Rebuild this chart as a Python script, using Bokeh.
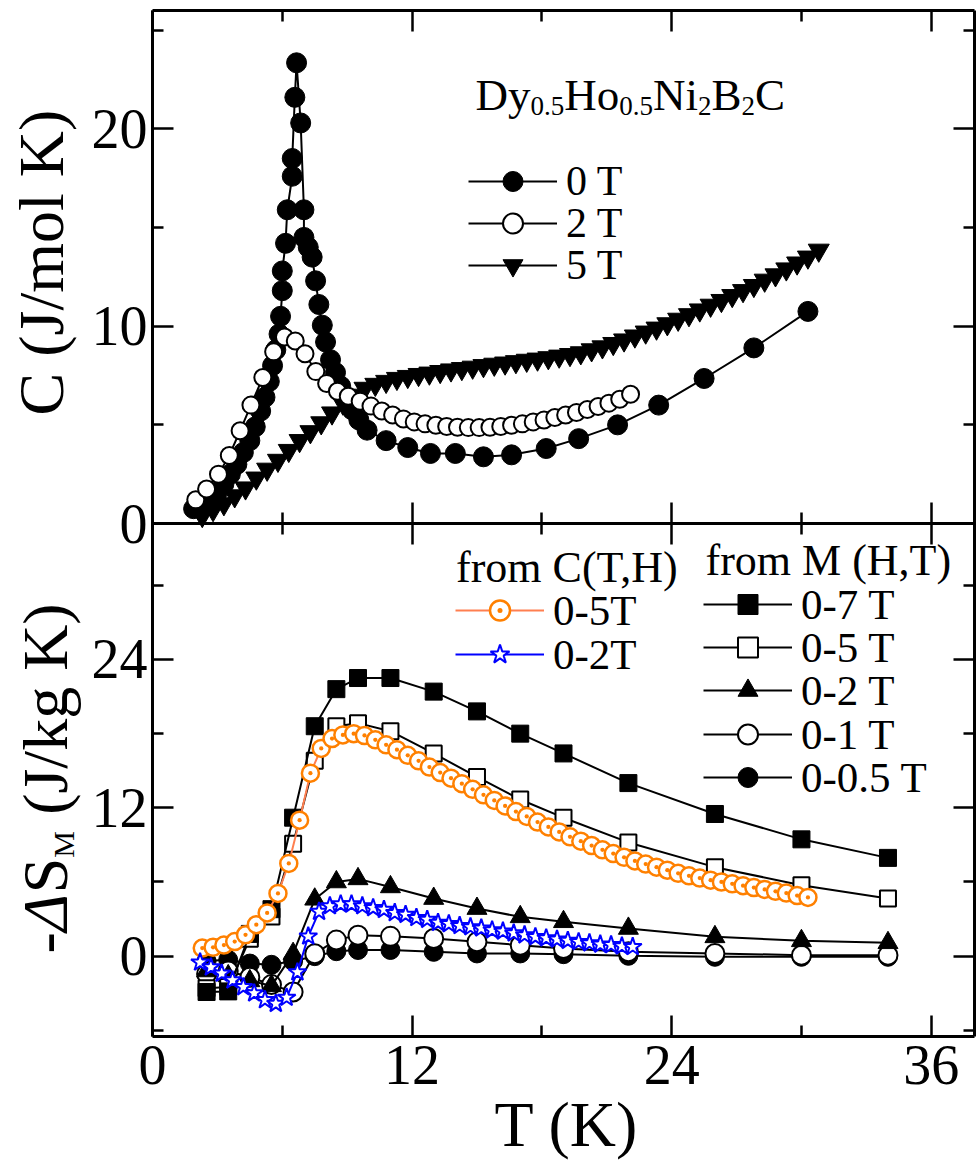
import math
from bokeh.plotting import figure
from bokeh.models import (Range1d, LinearAxis, FixedTicker, SingleIntervalTicker,
                          CustomJSTickFormatter, Label, Legend, LegendItem)
from bokeh.embed import file_html
from bokeh.resources import INLINE

# ---------------- data: top panel, C (J/mol K) vs T (K) ----------------
T_0T = [1.9, 2.1, 2.4, 2.7, 3.0, 3.3, 3.6, 3.9, 4.2, 4.5, 4.75, 5.0, 5.2, 5.4, 5.55,
        5.7, 5.85, 5.92, 6.0, 6.0, 6.15, 6.23, 6.46, 6.46, 6.58, 6.66, 6.85, 7.0, 7.0, 7.2,
        7.38, 7.54, 7.69, 7.85, 8.0, 8.23, 8.46, 8.7, 8.92, 9.23, 9.54, 9.92, 10.8, 11.8, 12.85,
        14.0, 15.3, 16.6, 18.2, 19.7, 21.5, 23.4, 25.5, 27.8, 30.3]
C_0T = [0.75, 0.8, 1.0, 1.3, 1.6, 2.0, 2.5, 3.0, 3.6, 4.2, 4.9, 5.7, 6.4, 7.2, 8.0,
        8.8, 9.6, 10.5, 11.8, 12.8, 14.2, 15.9, 17.6, 18.5, 21.6, 23.35, 20.3, 15.9, 14.5, 14.0,
        13.5, 12.3, 11.1, 10.05, 9.2, 8.3, 7.65, 6.96, 6.36, 5.76, 5.25, 4.73, 4.2, 3.85, 3.55,
        3.55, 3.38, 3.48, 3.8, 4.3, 5.0, 6.0, 7.35, 8.9, 10.75]

T_2T = [2.0, 2.5, 3.05, 3.55, 4.05, 4.55, 5.1, 5.6, 6.1, 6.6, 7.05, 7.55, 8.05, 8.55, 9.05,
        9.6, 10.1, 10.6, 11.1, 11.6, 12.1, 12.6, 13.1, 13.6, 14.1, 14.6, 15.1, 15.6, 16.1, 16.6,
        17.1, 17.6, 18.1, 18.6, 19.1, 19.6, 20.1, 20.6, 21.1, 21.6, 22.1]
C_2T = [1.2, 1.75, 2.5, 3.45, 4.7, 6.0, 7.4, 8.7, 9.45, 9.25, 8.6, 7.7, 7.1, 6.7, 6.45,
        6.2, 5.95, 5.7, 5.5, 5.3, 5.15, 5.05, 4.98, 4.92, 4.88, 4.86, 4.86, 4.88, 4.92, 4.98,
        5.05, 5.15, 5.25, 5.37, 5.5, 5.63, 5.78, 5.93, 6.1, 6.3, 6.55]

T_5T = [2.3, 2.8, 3.3, 3.8, 4.3, 4.8, 5.3, 5.8, 6.3, 6.8, 7.3, 7.8, 8.3, 8.8, 9.3,
        9.8, 10.3, 10.8, 11.3, 11.8, 12.3, 12.8, 13.3, 13.8, 14.3, 14.8, 15.3, 15.8, 16.3, 16.8,
        17.3, 17.8, 18.3, 18.8, 19.3, 19.8, 20.3, 20.8, 21.3, 21.8, 22.3, 22.8, 23.3, 23.8, 24.3,
        24.8, 25.3, 25.8, 26.3, 26.8, 27.3, 27.8, 28.3, 28.8, 29.3, 29.8, 30.3, 30.8]
C_5T = [0.4, 0.7, 1.0, 1.4, 1.8, 2.3, 2.75, 3.2, 3.7, 4.2, 4.65, 5.1, 5.6, 6.1, 6.5,
        6.85, 7.05, 7.2, 7.35, 7.45, 7.55, 7.62, 7.7, 7.78, 7.85, 7.92, 8.0, 8.07, 8.13, 8.2,
        8.27, 8.33, 8.4, 8.48, 8.56, 8.65, 8.8, 8.95, 9.12, 9.3, 9.5, 9.7, 9.9, 10.12, 10.35,
        10.58, 10.82, 11.06, 11.3, 11.55, 11.8, 12.06, 12.33, 12.6, 12.9, 13.2, 13.5, 13.85]

# ---------------- data: bottom panel, -dS_M (J/kg K) vs T (K) ----------------
T_M = [2.5, 3.5, 4.5, 5.5, 6.5, 7.5, 8.5, 9.5, 11, 13, 15, 17, 19, 22, 26, 30, 34]
S_M07 = [-2.9, -2.85, 1.8, 3.8, 11.2, 18.6, 21.6, 22.5, 22.5, 21.4, 19.8, 18.0, 16.4, 14.0, 11.5, 9.45, 7.95]
S_M05 = [-2.6, -2.5, 1.4, 3.2, 9.1, 15.8, 18.6, 18.85, 18.2, 16.4, 14.5, 12.67, 11.2, 9.2, 7.2, 5.74, 4.66]
S_M02 = [-1.2, -1.6, -2.0, -2.4, 0.2, 4.6, 6.0, 6.25, 5.6, 4.66, 3.85, 3.18, 2.78, 2.24, 1.56, 1.24, 1.08]
S_M01 = [-1.45, -1.2, -1.7, -2.3, -2.9, 0.2, 1.3, 1.7, 1.6, 1.43, 1.16, 0.89, 0.62, 0.35, 0.22, 0.08, 0.08]
S_M005 = [-0.4, -0.3, -0.6, -0.7, -0.4, 0.0, 0.4, 0.5, 0.5, 0.35, 0.22, 0.22, 0.16, 0.03, -0.05, -0.05, -0.05]

T_C5 = [2.3, 2.8, 3.3, 3.8, 4.3, 4.8, 5.3, 5.8, 6.3, 6.8, 7.3, 7.8, 8.3, 8.8, 9.3,
        9.8, 10.3, 10.8, 11.3, 11.8, 12.3, 12.8, 13.3, 13.8, 14.3, 14.8, 15.3, 15.8, 16.3, 16.8,
        17.3, 17.8, 18.3, 18.8, 19.3, 19.8, 20.3, 20.8, 21.3, 21.8, 22.3, 22.8, 23.3, 23.8, 24.3,
        24.8, 25.3, 25.8, 26.3, 26.8, 27.3, 27.8, 28.3, 28.8, 29.3, 29.8, 30.3]
S_C5 = [0.65, 0.72, 0.9, 1.18, 1.73, 2.55, 3.5, 5.07, 7.5, 11.0, 14.8, 16.8, 17.6, 17.9, 18.0,
        17.85, 17.5, 17.1, 16.7, 16.25, 15.8, 15.3, 14.85, 14.4, 13.95, 13.5, 13.05, 12.6, 12.15, 11.7,
        11.3, 10.85, 10.45, 10.05, 9.65, 9.3, 8.95, 8.6, 8.3, 8.0, 7.7, 7.45, 7.2, 6.95, 6.7,
        6.5, 6.32, 6.15, 6.0, 5.85, 5.7, 5.55, 5.4, 5.25, 5.1, 4.9, 4.75]

T_C2 = [2.2, 2.7, 3.2, 3.7, 4.2, 4.7, 5.2, 5.7, 6.2, 6.7, 7.2, 7.7, 8.2, 8.7, 9.2,
        9.7, 10.2, 10.7, 11.2, 11.7, 12.2, 12.7, 13.2, 13.7, 14.2, 14.7, 15.2, 15.7, 16.2, 16.7,
        17.2, 17.7, 18.2, 18.7, 19.2, 19.7, 20.2, 20.7, 21.2, 21.7, 22.2]
S_C2 = [-0.5, -0.9, -1.4, -1.95, -2.5, -3.0, -3.55, -3.85, -3.35, -1.3, 1.6, 3.6, 4.05, 4.2, 4.2,
        4.05, 3.9, 3.75, 3.5, 3.35, 3.1, 2.95, 2.7, 2.6, 2.45, 2.35, 2.25, 2.1, 2.0, 1.85,
        1.7, 1.55, 1.45, 1.35, 1.25, 1.15, 1.05, 0.95, 0.9, 0.8, 0.75]

# ticks
X_MAJOR = [0, 12, 24, 36]
X_MINOR = [6, 18, 30]
C_MAJOR = [0, 10, 20]
C_MINOR = [5, 15, 25]
S_MAJOR = [0, 12, 24]
S_MINOR = [-6, 6, 18, 30]

# ---------------- layout (page pixels) ----------------
SERIF = "Liberation Serif"
W, H = 976, 1163
PX_L, PX_R = 152, 974        # panel left / right edges
PX_T, PX_M, PX_B = 10, 523, 1036  # top edge, boundary between panels, bottom edge
X_MAX = 38.0
C_TOP = 26.0                  # top panel: C from 0 to C_TOP
S_MIN, S_MAX = -6.5, 35.0     # bottom panel
UX = (PX_R - PX_L) / X_MAX
UC = (PX_M - PX_T) / C_TOP
US = (PX_B - PX_M) / (S_MAX - S_MIN)
BASE_FIX = 0.34               # em shift to place alphabetic baselines


def px2x(px):
    return (px - PX_L) / UX


def py2c(py):
    return (PX_M - py) / UC


def py2s(py):
    return S_MAX - (py - PX_M) / US


def s2c(s):
    return py2c(PX_M + (S_MAX - s) * US)


# the frame covers the whole page; panels are drawn with fixed-location axes
p = figure(width=W, height=H, x_range=Range1d(px2x(0), px2x(W)),
           y_range=Range1d(py2c(H), py2c(0)),
           output_backend="svg", toolbar_location=None, min_border=0,
           x_axis_location=None, y_axis_location=None)
p.extra_y_ranges = {"bot": Range1d(py2s(H), py2s(0))}
p.grid.visible = False
p.outline_line_color = None
p.background_fill_color = "white"
p.border_fill_color = "white"


def style_axis(ax, labels):
    ax.axis_line_width = 3
    ax.axis_line_color = "black"
    ax.major_tick_in = 21
    ax.major_tick_out = 0
    ax.minor_tick_in = 11
    ax.minor_tick_out = 0
    ax.major_tick_line_width = 2.5
    ax.minor_tick_line_width = 2.5
    ax.major_tick_line_color = "black"
    ax.minor_tick_line_color = "black"
    if labels:
        ax.major_label_text_font = SERIF
        ax.major_label_text_font_size = "56px"
        ax.major_label_text_color = "black"
        ax.major_label_standoff = 5
    else:
        ax.major_label_text_font_size = "0px"
        ax.major_label_text_color = None
        ax.major_label_standoff = 0


def y_ticker():
    return FixedTicker(ticks=C_MAJOR + [s2c(s) for s in S_MAJOR],
                       minor_ticks=C_MINOR + [s2c(s) for s in S_MINOR])


def x_ticker():
    return FixedTicker(ticks=X_MAJOR, minor_ticks=X_MINOR)


y_fmt = CustomJSTickFormatter(args=dict(k=UC / US, smax=S_MAX), code="""
    const v = tick >= -1e-6 ? tick : tick * k + smax;
    return Math.round(v).toString();
""")
Y_BOUNDS = (py2c(PX_B), py2c(PX_T))
X_BOUNDS = (0, X_MAX)

ax_left = LinearAxis(ticker=y_ticker(), formatter=y_fmt, fixed_location=0, bounds=Y_BOUNDS)
style_axis(ax_left, True)
p.add_layout(ax_left, "left")

ax_right = LinearAxis(ticker=y_ticker(), fixed_location=X_MAX, bounds=Y_BOUNDS)
style_axis(ax_right, False)
p.add_layout(ax_right, "right")

ax_top = LinearAxis(ticker=x_ticker(), fixed_location=C_TOP, bounds=X_BOUNDS)
style_axis(ax_top, False)
p.add_layout(ax_top, "above")

ax_bottom = LinearAxis(ticker=x_ticker(), fixed_location=py2c(PX_B), bounds=X_BOUNDS)
style_axis(ax_bottom, True)
ax_bottom.major_label_standoff = 9
p.add_layout(ax_bottom, "below")

# the shared boundary: bottom axis of the top panel and top axis of the lower panel
ax_mid_up = LinearAxis(ticker=x_ticker(), fixed_location=0, bounds=X_BOUNDS)
style_axis(ax_mid_up, False)
p.add_layout(ax_mid_up, "below")
ax_mid_dn = LinearAxis(ticker=x_ticker(), fixed_location=0, bounds=X_BOUNDS)
style_axis(ax_mid_dn, False)
p.add_layout(ax_mid_dn, "above")

# ---------------- top panel ----------------
l5 = p.line(T_5T, C_5T, line_color="black", line_width=2)
s5 = p.scatter(T_5T, C_5T, marker="inverted_triangle", size=21, fill_color="black",
               line_color="black", line_width=1)
l0 = p.line(T_0T, C_0T, line_color="black", line_width=2)
s0 = p.scatter(T_0T, C_0T, marker="circle", size=20, fill_color="black",
               line_color="black", line_width=1)
l2 = p.line(T_2T, C_2T, line_color="black", line_width=2)
s2 = p.scatter(T_2T, C_2T, marker="circle", size=17, fill_color="white",
               line_color="black", line_width=2)

# ---------------- bottom panel ----------------
B = dict(y_range_name="bot")
lm005 = p.line(T_M, S_M005, line_color="black", line_width=2, **B)
sm005 = p.scatter(T_M, S_M005, marker="circle", size=19, fill_color="black",
                  line_color="black", line_width=1, **B)
lm01 = p.line(T_M, S_M01, line_color="black", line_width=2, **B)
sm01 = p.scatter(T_M, S_M01, marker="circle", size=19, fill_color="white",
                 line_color="black", line_width=2, **B)
lm02 = p.line(T_M, S_M02, line_color="black", line_width=2, **B)
sm02 = p.scatter(T_M, S_M02, marker="triangle", size=20, fill_color="black",
                 line_color="black", line_width=1, **B)
lm05 = p.line(T_M, S_M05, line_color="black", line_width=2, **B)
sm05 = p.scatter(T_M, S_M05, marker="square", size=16, fill_color="white",
                 line_color="black", line_width=2, **B)
lm07 = p.line(T_M, S_M07, line_color="black", line_width=2, **B)
sm07 = p.scatter(T_M, S_M07, marker="square", size=17, fill_color="black",
                 line_color="black", line_width=1, **B)

lc5 = p.line(T_C5, S_C5, line_color="#FF7F50", line_width=2, **B)
sc5 = p.scatter(T_C5, S_C5, marker="circle_dot", size=17, fill_color="white",
                line_color="#FF8000", line_width=2.5, **B)
lc2 = p.line(T_C2, S_C2, line_color="#0000FF", line_width=2, **B)
sc2 = p.scatter(T_C2, S_C2, marker="star", size=19, fill_color="white",
                line_color="#0000FF", line_width=2, **B)

# ---------------- legends: one row each, placed by the row centre (page px) ----------------
ROW_H = 50


def legend_row(label, renderers, x_left, y_centre, size):
    lg = Legend(items=[LegendItem(label=label, renderers=renderers)],
                location=(x_left, round(H - (y_centre + ROW_H / 2))))
    lg.glyph_width = 89
    lg.glyph_height = ROW_H
    lg.label_height = 30
    lg.label_standoff = 9
    lg.padding = 0
    lg.margin = 0
    lg.spacing = 0
    lg.border_line_color = None
    lg.background_fill_alpha = 0
    lg.label_text_font = SERIF
    lg.label_text_font_size = f"{size}px"
    lg.label_text_color = "black"
    p.add_layout(lg)


for lbl, rends, yc in (("0 T", [l0, s0], 181), ("2 T", [l2, s2], 223), ("5 T", [l5, s5], 265)):
    legend_row(lbl, rends, 468, yc, 42)
for lbl, rends, yc in (("0-5T", [lc5, sc5], 610), ("0-2T", [lc2, sc2], 654)):
    legend_row(lbl, rends, 455, yc, 43)
for lbl, rends, yc in (("0-7 T", [lm07, sm07], 604), ("0-5 T", [lm05, sm05], 647),
                       ("0-2 T", [lm02, sm02], 690), ("0-1 T", [lm01, sm01], 734),
                       ("0-0.5 T", [lm005, sm005], 777)):
    legend_row(lbl, rends, 703, yc, 43)


# ---------------- texts ----------------
def lab(text, px, py, size, angle=0.0, align="left", style="normal"):
    """Place a text with its alphabetic baseline through page pixel (px, py)."""
    if angle == 0.0:
        py = py - BASE_FIX * size
    else:
        px = px - BASE_FIX * size
    p.add_layout(Label(x=px2x(px), y=py2c(py), text=text, text_font=SERIF,
                       text_font_size=f"{size}px", text_color="black", angle=angle,
                       text_align=align, text_baseline="alphabetic", text_font_style=style))


# compound formula
for txt, px, sub in (("Dy", 475, False), ("0.5", 530, True), ("Ho", 563.8, False),
                     ("0.5", 618.8, True), ("Ni", 652.5, False), ("2", 697.5, True),
                     ("B", 711, False), ("2", 741, True), ("C", 754.5, False)):
    if sub:
        lab(txt, px, 115, 27)
    else:
        lab(txt, px, 109.3, 45)

# legend headers
lab("from C(T,H)", 455.5, 582, 44)
lab("from M (H,T)", 705, 575, 44)

# axis titles
UP = math.pi / 2
lab("T (K)", 566, 1146, 64, align="center")
lab("C (J/mol K)", 62.5, 262, 64, angle=UP, align="center")
# "-ΔS_M (J/kg K)" built from pieces (centres along the text, page px)
lab("-", 66.8, 942.3, 64, angle=UP, align="center")
lab("Δ", 66.8, 912.2, 64, angle=UP, align="center", style="italic")
lab("S", 66.8, 874.9, 64, angle=UP, align="center")
lab("M", 72.8, 843.8, 30, angle=UP, align="center")
lab("(J/kg K)", 66.8, 708.6, 64, angle=UP, align="center")

open("out.html", "w").write(file_html(p, INLINE))
